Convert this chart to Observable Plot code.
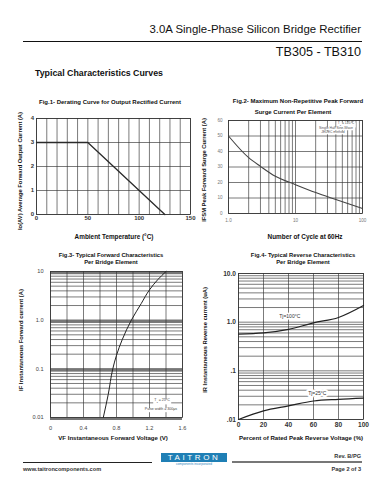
<!DOCTYPE html>
<html><head><meta charset="utf-8">
<script src="https://cdn.jsdelivr.net/npm/d3@7"></script>
<script src="https://cdn.jsdelivr.net/npm/@observablehq/plot@0.6"></script>
<style>
body{margin:0;background:#fff;}
#page{position:relative;width:386px;height:500px;overflow:hidden;font-family:"Liberation Sans",Arial,sans-serif;color:#111;background:#fff;}
</style></head><body><div id="page"></div>
<script>
// ---- Fig.1 derating curve
const fig1Temp = [0, 50, 125];
const fig1Current = [3, 3, 0];
const fig1XTicks = [0, 50, 100, 150];
const fig1YTicks = [0, 1, 2, 3, 4];
// ---- Fig.2 surge current
const fig2Cycles = [1, 2, 3, 5, 10, 20, 40, 100];
const fig2Surge = [50, 36, 30.4, 24, 18.6, 13.5, 9, 3.2];
const fig2XTicks = [1, 10, 100];
const fig2XLabels = ["1.0", "10", "100"];
const fig2YTicks = [0, 10, 20, 30, 40, 50, 60];
// ---- Fig.3 forward characteristics
const fig3Voltage = [0.64, 0.70, 0.755, 0.80, 0.87, 0.98, 1.1, 1.2, 1.3, 1.4];
const fig3Current = [0.01, 0.03, 0.1, 0.19, 0.4, 1.0, 2.2, 4.2, 6.8, 10];
const fig3XTicks = [0, 0.4, 0.8, 1.2, 1.6];
const fig3XLabels = ["0", "0.4", "0.8", "1.2", "1.6"];
const fig3YTicks = [0.01, 0.1, 1, 10];
const fig3YLabels = ["0.01", "0.1", "1.0", "10"];
// ---- Fig.4 reverse characteristics
const fig4Percent = [0, 20, 40, 60, 80, 100];
const fig4Ir100 = [0.57, 0.60, 0.71, 0.97, 1.25, 2.2];
const fig4Ir25 = [0.010, 0.015, 0.019, 0.024, 0.026, 0.0275];
const fig4XTicks = [0, 20, 40, 60, 80, 100];
const fig4YTicks = [0.01, 0.1, 1, 10];
const fig4YLabels = [".01", ".1", "1.0", "10.0"];

const page = document.getElementById("page");
function txt(s, x, y, o = {}) {
  const d = document.createElement("div");
  if (o.html) d.innerHTML = s; else d.textContent = s;
  const a = o.align === "center" ? "-50%" : o.align === "right" ? "-100%" : "0";
  Object.assign(d.style, {
    position: "absolute", left: x + "px", top: y + "px", whiteSpace: "nowrap", lineHeight: "1",
    fontSize: (o.size || 6) + "px", fontWeight: o.weight || "normal", color: o.color || "#111",
    transform: o.rotate ? "translate(-50%,-50%) rotate(-90deg)" : `translate(${a},-50%)`
  });
  if (o.bg) { d.style.background = o.bg; d.style.padding = o.pad || "0 1px"; }
  if (o.spacing) d.style.letterSpacing = o.spacing;
  page.appendChild(d);
  return d;
}
function box(x, y, w, h, bg) {
  const d = document.createElement("div");
  Object.assign(d.style, {position: "absolute", left: x + "px", top: y + "px", width: w + "px", height: h + "px", background: bg});
  page.appendChild(d);
  return d;
}
function place(svg, left, top) {
  svg.style.position = "absolute";
  svg.style.left = left + "px";
  svg.style.top = top + "px";
  page.appendChild(svg);
}
const logGrid = (lo, hi) => d3.range(Math.round(Math.log10(lo)), Math.round(Math.log10(hi)))
  .flatMap(e => d3.range(1, 10).map(m => +(m * Math.pow(10, e)).toPrecision(3))).concat([hi]);
const grid = {stroke: "#333", strokeWidth: 0.65};
const baseStyle = (size, weight, color) => ({fontFamily: "Liberation Sans, Arial, sans-serif", fontSize: size + "px", fontWeight: weight, color, background: "transparent", overflow: "visible"});

// ---------- header ----------
txt("3.0A Single-Phase Silicon Bridge Rectifier", 361, 30, {size: 11.4, align: "right"});
box(23, 41, 339, 1.4, "#111");
txt("TB305 - TB310", 361, 52, {size: 12.6, align: "right"});
txt("Typical Characteristics Curves", 35, 73, {size: 8.8, weight: "bold"});

// ---------- Fig.1 ----------
txt("Fig.1- Derating Curve for Output Rectified Current", 110, 101.5, {size: 6, weight: "bold", align: "center"});
const fig1Data = fig1Temp.map((t, i) => ({t, c: fig1Current[i]}));
place(Plot.plot({
  width: 180, height: 125, marginLeft: 16, marginRight: 10, marginTop: 13, marginBottom: 16,
  style: baseStyle(6, "bold", "#333"),
  x: {type: "linear", domain: [0, 150], ticks: fig1XTicks, tickFormat: d => String(d), tickSize: 0, tickPadding: 1.5, label: null},
  y: {type: "linear", domain: [0, 4], ticks: fig1YTicks, tickFormat: d => String(d), tickSize: 0, tickPadding: 2.5, label: null},
  marks: [
    Plot.ruleX(d3.range(0, 151, 10), grid),
    Plot.ruleY(fig1YTicks, grid),
    Plot.frame({stroke: "#333", strokeWidth: 0.8}),
    Plot.line(fig1Data, {x: "t", y: "c", stroke: "#2a2a2a", strokeWidth: 1.3})
  ]
}), 20, 105);
txt("Io(AV) Average Forward Output Current (A)", 20.5, 171, {size: 5.8, weight: "bold", rotate: true});
txt("Ambient Temperature (°C)", 114, 237, {size: 6.4, weight: "bold", align: "center"});

// ---------- Fig.2 ----------
txt("Fig.2- Maximum Non-Repetitive Peak Forward", 298, 101, {size: 6, weight: "bold", align: "center"});
txt("Surge Current Per Element", 293, 112, {size: 6, weight: "bold", align: "center"});
const fig2Data = fig2Cycles.map((n, i) => ({n, a: fig2Surge[i]}));
place(Plot.plot({
  width: 175, height: 125, marginLeft: 23, marginRight: 18, marginTop: 15, marginBottom: 17,
  style: baseStyle(4.6, "normal", "#777"),
  x: {type: "log", domain: [1, 100], ticks: fig2XTicks, tickFormat: d => fig2XLabels[fig2XTicks.indexOf(d)], tickSize: 0, tickPadding: 5, label: null},
  y: {type: "linear", domain: [0, 60], ticks: fig2YTicks, tickFormat: d => String(d), tickSize: 0, tickPadding: 6, label: null},
  marks: [
    Plot.ruleX(logGrid(1, 100), grid),
    Plot.ruleY(fig2YTicks, grid),
    Plot.frame({stroke: "#333", strokeWidth: 0.8}),
    Plot.line(fig2Data, {x: "n", y: "a", curve: "monotone-x", stroke: "#444", strokeWidth: 1.1})
  ]
}), 205, 105);
txt("T<sub style='font-size:0.7em'>J</sub> = 125°C", 346, 124.5, {size: 3.4, align: "center", color: "#555", html: true, bg: "#fff"});
txt("Single Half Sine-Wave", 336, 129, {size: 3.4, align: "center", color: "#555", bg: "#fff"});
txt("JEDEC method", 333, 133, {size: 3.4, align: "center", color: "#555", bg: "#fff"});
txt("IFSM Peak Forward Surge Current (A)", 205, 170, {size: 5.8, weight: "bold", rotate: true});
txt("Number of Cycle at 60Hz", 305, 237, {size: 6.4, weight: "bold", align: "center"});

// ---------- Fig.3 ----------
txt("Fig.3- Typical Forward Characteristics", 111, 255.5, {size: 5.8, weight: "bold", align: "center"});
txt("Per Bridge Element", 111, 263, {size: 5.8, weight: "bold", align: "center"});
const fig3Data = fig3Voltage.map((v, i) => ({v, a: fig3Current[i]}));
place(Plot.plot({
  width: 175, height: 170, marginLeft: 30, marginRight: 13, marginTop: 11, marginBottom: 13,
  style: baseStyle(5.6, "normal", "#444"),
  x: {type: "linear", domain: [0, 1.6], ticks: fig3XTicks, tickFormat: d => fig3XLabels[fig3XTicks.indexOf(d)], tickSize: 0, tickPadding: 9, label: null},
  y: {type: "log", domain: [0.01, 10], ticks: fig3YTicks, tickFormat: d => fig3YLabels[fig3YTicks.indexOf(d)], tickSize: 0, tickPadding: 7, label: null},
  marks: [
    Plot.ruleY(logGrid(0.01, 10), grid),
    Plot.ruleY(fig3YTicks, {stroke: "#777", strokeWidth: 3, dy: 1}),
    Plot.ruleX(d3.range(0, 9).map(i => i * 0.2), grid),
    Plot.frame({stroke: "#333", strokeWidth: 0.8}),
    Plot.line(fig3Data, {x: "v", y: "a", curve: "monotone-y", stroke: "#222", strokeWidth: 1})
  ]
}), 20, 260);
txt("T<sub style='font-size:0.7em'>J</sub> = 25°C", 162, 402, {size: 3.6, align: "center", color: "#444", html: true, bg: "#fff"});
txt("Pulse width = 300μs", 161, 410, {size: 3.6, align: "center", color: "#444", bg: "#fff"});
txt("IF Instantaneous Forward current (A)", 22, 340, {size: 5.8, weight: "bold", rotate: true});
txt("VF Instantaneous Forward Voltage (V)", 113, 438, {size: 6.1, weight: "bold", align: "center"});

// ---------- Fig.4 ----------
txt("Fig.4- Typical Reverse Characteristics", 303, 255.5, {size: 5.8, weight: "bold", align: "center"});
txt("Per Bridge Element", 303, 263, {size: 5.8, weight: "bold", align: "center"});
const fig4Data = fig4Percent.flatMap((p, i) => [
  {p, ir: fig4Ir100[i], s: "100"},
  {p, ir: fig4Ir25[i], s: "25"}
]);
place(Plot.plot({
  width: 175, height: 170, marginLeft: 33, marginRight: 17, marginTop: 13, marginBottom: 11,
  style: baseStyle(6.6, "bold", "#333"),
  x: {type: "linear", domain: [0, 100], ticks: fig4XTicks, tickFormat: d => String(d), tickSize: 0, tickPadding: 2.5, label: null},
  y: {type: "log", domain: [0.01, 10], ticks: fig4YTicks, tickFormat: d => fig4YLabels[fig4YTicks.indexOf(d)], tickSize: 0, tickPadding: 2.5, label: null},
  marks: [
    Plot.ruleY(logGrid(0.01, 10), grid),
    Plot.ruleX(fig4XTicks, grid),
    Plot.frame({stroke: "#333", strokeWidth: 0.8}),
    Plot.line(fig4Data, {x: "p", y: "ir", z: "s", curve: "monotone-x", stroke: "#222", strokeWidth: 1.2}),
    Plot.text(["Tj=100°C"], {x: 41, y: 1.31, fontSize: 5, fontWeight: "normal", fill: "#333", stroke: "#fff", strokeWidth: 3}),
    Plot.text(["Tj=25°C"], {x: 63, y: 0.034, fontSize: 5, fontWeight: "normal", fill: "#333", stroke: "#fff", strokeWidth: 4})
  ]
}), 205, 260);
txt("IR Instantaneous Reverse current (uA)", 206, 340, {size: 5.8, weight: "bold", rotate: true});
txt("Percent of Rated Peak Reverse Voltage (%)", 301, 438, {size: 6.1, weight: "bold", align: "center"});

// ---------- footer ----------
box(23, 461.5, 129, 1.2, "#222");
box(232, 461, 130, 2, "#777");
const logo = box(161, 452.5, 66, 9, "#1f7fb5");
logo.style.color = "#fff"; logo.style.fontSize = "8px"; logo.style.lineHeight = "9px";
logo.style.textAlign = "center"; logo.style.letterSpacing = "2.6px"; logo.textContent = "TAITRON";
txt("components incorporated", 194, 465, {size: 3.2, align: "center", color: "#2f86bb"});
txt("Rev. B/PG", 361, 456.5, {size: 5.6, weight: "bold", align: "right", color: "#333"});
txt("www.taitroncomponents.com", 23, 469.5, {size: 5.6, weight: "bold", color: "#333"});
txt("Page 2 of 3", 361, 469.5, {size: 5.6, weight: "bold", align: "right", color: "#333"});
</script></body></html>
